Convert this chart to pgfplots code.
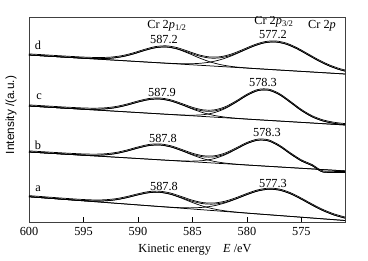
\documentclass[border=0pt]{standalone}
\usepackage{fontspec}
\setmainfont{Liberation Serif}
\newfontfamily\sansf{Liberation Sans}
\usepackage{pgfplots}
\pgfplotsset{compat=1.18}
\usepackage{pgfplotstable}

% columns: E baseline component1 component2 envelope
\pgfplotstableread{
E base c1 c2 env
570.4 147.61 147.61 149.44 149.44
571.4 148.26 148.26 152.02 152.02
572.4 148.92 148.92 155.85 155.85
573.4 149.57 149.57 161.00 161.00
574.4 150.23 150.23 167.09 167.09
575.4 150.88 150.88 173.14 173.14
576.4 151.54 151.54 177.84 177.84
577.4 152.19 152.19 179.99 179.99
578.4 152.85 152.86 179.15 179.16
579.4 153.50 153.56 175.76 175.82
580.4 154.16 154.39 171.02 171.25
581.4 154.81 155.52 166.24 166.95
582.4 155.47 157.32 162.40 164.25
583.4 156.12 160.16 159.88 163.92
584.4 156.78 164.20 158.61 166.03
585.4 157.43 168.88 158.23 169.68
586.4 158.09 172.94 158.40 173.25
587.4 158.74 174.94 158.85 175.05
588.4 159.40 174.25 159.43 174.28
589.4 160.06 171.51 160.06 171.51
590.4 160.71 168.13 160.71 168.13
591.4 161.37 165.41 161.37 165.41
592.4 162.02 163.87 162.02 163.87
593.4 162.68 163.39 162.68 163.39
594.4 163.33 163.56 163.33 163.56
595.4 163.99 164.05 163.99 164.05
596.4 164.64 164.65 164.64 164.65
597.4 165.30 165.30 165.30 165.30
598.4 165.95 165.95 165.95 165.95
599.4 166.61 166.61 166.61 166.61
600.4 167.26 167.26 167.26 167.26
}\tabd

\pgfplotstableread{
E base c1 c2 env
571 97.00 97.00 97.30 97.30
572 97.66 97.66 98.63 98.63
573 98.31 98.31 100.96 100.96
574 98.97 98.97 105.08 105.08
575 99.62 99.62 111.43 111.43
576 100.28 100.28 119.49 119.49
577 100.93 100.93 127.18 127.18
578 101.59 101.59 131.75 131.75
579 102.24 102.25 131.37 131.38
580 102.90 102.96 126.55 126.61
581 103.55 103.76 119.70 119.91
582 104.21 104.86 113.47 114.12
583 104.86 106.55 109.33 111.02
584 105.52 109.21 107.33 111.02
585 106.17 112.95 106.79 113.57
586 106.83 117.29 107.01 117.47
587 107.48 121.05 107.52 121.09
588 108.14 122.94 108.14 122.94
589 108.79 122.36 108.79 122.36
590 109.45 119.91 109.45 119.91
591 110.10 116.88 110.10 116.88
592 110.76 114.45 110.76 114.45
593 111.41 113.10 111.41 113.10
594 112.07 112.72 112.07 112.72
595 112.72 112.93 112.72 112.93
596 113.38 113.44 113.38 113.44
597 114.03 114.03 114.03 114.03
598 114.69 114.69 114.69 114.69
599 115.34 115.34 115.34 115.34
600 116.00 116.00 116.00 116.00
}\tabc

\pgfplotstableread{
E base c1 c2 env
571 51.10 51.10 49.40 49.40
572 51.75 51.75 49.50 49.50
573 52.40 52.40 49.90 49.90
573.5 52.73 52.73 52.60 52.60
574 53.06 53.06 56.27 56.27
575 53.71 53.71 61.04 61.04
576 54.36 54.36 67.99 67.99
577 55.01 55.01 75.62 75.62
578 55.66 55.66 81.00 81.00
579 56.32 56.33 81.76 81.77
580 56.97 57.03 78.36 78.42
581 57.62 57.83 72.73 72.94
582 58.27 58.92 67.25 67.90
583 58.92 60.61 63.40 65.09
584 59.58 63.27 61.46 65.15
585 60.23 67.01 60.89 67.67
586 60.88 71.34 61.08 71.54
587 61.53 75.10 61.58 75.15
588 62.18 76.98 62.18 76.98
589 62.84 76.41 62.84 76.41
590 63.49 73.95 63.49 73.95
591 64.14 70.92 64.14 70.92
592 64.79 68.48 64.79 68.48
593 65.44 67.13 65.44 67.13
594 66.10 66.75 66.10 66.75
595 66.75 66.96 66.75 66.96
596 67.40 67.46 67.40 67.46
597 68.05 68.05 68.05 68.05
598 68.70 68.70 68.70 68.70
599 69.36 69.36 69.36 69.36
600 70.01 70.01 70.01 70.01
}\tabb

\pgfplotstableread{
E base c1 c2 env
571 1.50 1.50 3.88 3.88
572 2.32 2.32 6.98 6.98
573 3.14 3.14 11.31 11.31
574 3.96 3.96 16.77 16.77
575 4.78 4.78 22.76 22.76
576 5.60 5.60 28.18 28.18
577 6.42 6.42 31.79 31.79
578 7.24 7.24 32.75 32.75
579 8.06 8.06 31.02 31.02
580 8.88 8.94 27.36 27.42
581 9.70 9.90 23.02 23.22
582 10.52 11.14 19.11 19.73
583 11.34 12.96 16.29 17.91
584 12.16 15.70 14.72 18.26
585 12.98 19.48 14.16 20.66
586 13.80 23.83 14.29 24.32
587 14.62 27.64 14.80 27.82
588 15.44 29.64 15.50 29.70
589 16.26 29.28 16.28 29.30
590 17.08 27.11 17.08 27.11
591 17.90 24.40 17.90 24.40
592 18.72 22.26 18.72 22.26
593 19.54 21.16 19.54 21.16
594 20.36 20.98 20.36 20.98
595 21.18 21.38 21.18 21.38
596 22.00 22.06 22.00 22.06
597 22.82 22.82 22.82 22.82
598 23.64 23.64 23.64 23.64
599 24.46 24.46 24.46 24.46
600 25.28 25.28 25.28 25.28
}\taba

\newcommand{\ff}{\fontsize{12.3}{14}\selectfont}
\tikzset{
  bl/.style={black, line width=0.75pt, no markers},
  cv/.style={black, line width=0.7pt, smooth, no markers},
}
\newcommand{\spectrum}[1]{%
  \addplot[bl] table[x=E,y=base]{#1};
  \addplot[cv] table[x=E,y=c1]{#1};
  \addplot[cv] table[x=E,y=c2]{#1};
  \addplot[cv] table[x=E,y=env]{#1};
  \addplot[cv, yshift=1.1pt] table[x=E,y=env]{#1};
}

\begin{document}
\begin{tikzpicture}[font=\ff]
\begin{axis}[
  scale only axis, width=316pt, height=205pt,
  x dir=reverse, xmin=571, xmax=600, ymin=0, ymax=205,
  xtick={575,580,585,590,595,600}, ytick=\empty,
  xtick pos=bottom, tick align=inside, major tick length=4.5pt,
  axis line style={black!75, line width=0.6pt},
  every tick/.style={black, line width=0.6pt},
  /pgf/number format/assume math mode=true,
  tick label style={font=\ff},
  xticklabel style={yshift=-1.5pt},
  xlabel={Kinetic energy\hspace{1em}\textit{E} /eV},
  xlabel style={at={(axis description cs:0.5,0)}, anchor=center, yshift=-28pt, xshift=8pt, font=\ff},
  ylabel={Intensity /(a.u.)},
  ylabel style={at={(axis description cs:-0.057,0.522)}, anchor=center, rotate=0, font=\sansf\fontsize{11.8}{13}\selectfont},
]
\spectrum{\tabd}
\spectrum{\tabc}
\spectrum{\tabb}
\spectrum{\taba}

\node at (axis cs:599.17,176.3) {d};
\node at (axis cs:599.08,125) {c};
\node at (axis cs:599.17,77) {b};
\node at (axis cs:599.17,33) {a};

\node at (axis cs:587.34,196) {Cr 2\textit{p}\textsubscript{1/2}};
\node at (axis cs:587.61,182) {587.2};
\node at (axis cs:577.52,200) {Cr 2\textit{p}\textsubscript{3/2}};
\node at (axis cs:577.61,187) {577.2};
\node at (axis cs:573.11,196) {Cr 2\textit{p}};
\node at (axis cs:587.79,129) {587.9};
\node at (axis cs:578.53,139) {578.3};
\node at (axis cs:587.70,83) {587.8};
\node at (axis cs:578.16,89) {578.3};
\node at (axis cs:587.61,35.3) {587.8};
\node at (axis cs:577.61,38) {577.3};
\end{axis}
\pgfresetboundingbox
\path[use as bounding box] ([xshift=-29pt,yshift=-39pt]current axis.south west) rectangle ([xshift=23pt,yshift=17pt]current axis.north east);
\end{tikzpicture}
\end{document}
